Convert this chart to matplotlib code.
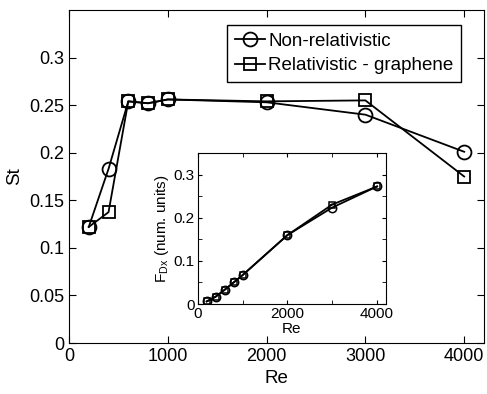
import matplotlib
matplotlib.use('Agg')
import matplotlib.pyplot as plt

plt.rcParams['font.family'] = ['Liberation Sans', 'DejaVu Sans']
plt.rcParams['mathtext.fontset'] = 'custom'
plt.rcParams['mathtext.rm'] = 'Liberation Sans'
plt.rcParams['mathtext.it'] = 'Liberation Sans:italic'

# data
re = [200, 400, 600, 800, 1000, 2000, 3000, 4000]
st_nonrel = [0.122, 0.183, 0.254, 0.252, 0.256, 0.253, 0.240, 0.201]
st_rel = [0.122, 0.1375, 0.254, 0.252, 0.256, 0.254, 0.255, 0.175]
fd_nonrel = [0.006, 0.017, 0.033, 0.050, 0.067, 0.160, 0.224, 0.273]
fd_rel = [0.006, 0.017, 0.033, 0.050, 0.067, 0.160, 0.231, 0.273]

fig = plt.figure(figsize=(4.87, 3.94), dpi=100)

# main axes
ax = fig.add_axes([0.1417, 0.1294, 0.852, 0.8452])
ax.plot(re, st_nonrel, 'k-o', mfc='none', ms=10, mew=1.3, lw=1.3,
        label='Non-relativistic')
ax.plot(re, st_rel, 'k-s', mfc='none', ms=8, mew=1.3, lw=1.3,
        label='Relativistic - graphene')
ax.set_xlim(0, 4200)
ax.set_ylim(0, 0.35)
ax.set_xticks([0, 1000, 2000, 3000, 4000])
ax.set_yticks([0, 0.05, 0.1, 0.15, 0.2, 0.25, 0.3])
ax.set_yticklabels(['0', '0.05', '0.1', '0.15', '0.2', '0.25', '0.3'])
ax.tick_params(direction='in', top=True, right=True, labelsize=13, length=5)
ax.set_xlabel('Re', fontsize=13.5)
ax.set_ylabel('St', fontsize=13.5)
leg = ax.legend(loc='upper right', fontsize=13.5, fancybox=False,
                edgecolor='k', framealpha=1, handlelength=1.6,
                handletextpad=0.2, borderpad=0.4, labelspacing=0.4,
                borderaxespad=0, bbox_to_anchor=(0.945, 0.955))
leg.get_frame().set_linewidth(1.0)

# inset
ins = fig.add_axes([0.406, 0.2284, 0.3867, 0.3825])
ins.plot(re, fd_nonrel, 'k-o', mfc='none', ms=6, mew=1.1, lw=1.3)
ins.plot(re, fd_rel, 'k-s', mfc='none', ms=5, mew=1.1, lw=1.3)
ins.set_xlim(0, 4200)
ins.set_ylim(0, 0.35)
ins.set_xticks([0, 2000, 4000])
ins.set_yticks([0, 0.1, 0.2, 0.3])
ins.set_yticklabels(['0', '0.1', '0.2', '0.3'])
ins.set_xticks([1000, 3000], minor=True)
ins.set_yticks([0.05, 0.15, 0.25], minor=True)
ins.tick_params(which='both', direction='in', top=True, right=True,
                labelsize=11, length=3, pad=2)
ins.set_xlabel('Re', fontsize=11)
ins.xaxis.set_label_coords(0.5, -0.12)
ins.set_ylabel(r'F$_{\rm Dx}$ (num. units)', fontsize=11, labelpad=2)

fig.savefig('out.png', dpi=100)
